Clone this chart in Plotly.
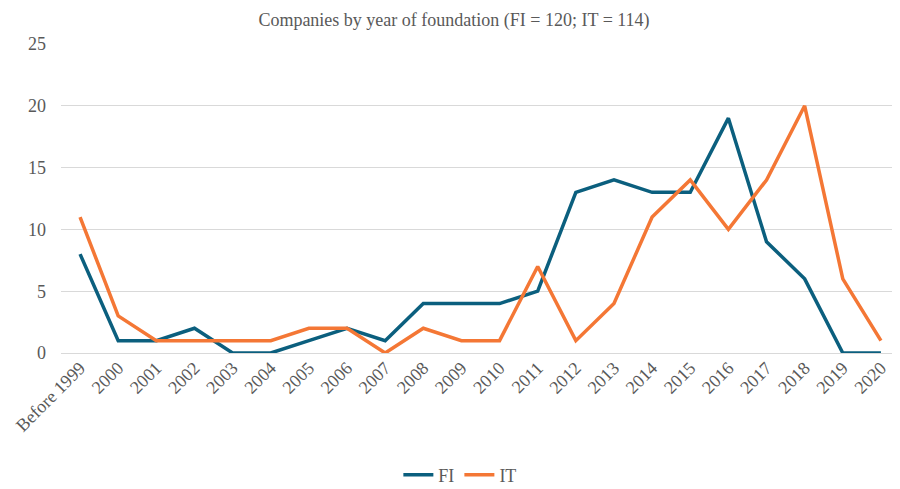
import plotly.graph_objects as go

categories = ["Before 1999", "2000", "2001", "2002", "2003", "2004", "2005", "2006", "2007", "2008",
              "2009", "2010", "2011", "2012", "2013", "2014", "2015", "2016", "2017", "2018", "2019", "2020"]
fi_values = [8, 1, 1, 2, 0, 0, 1, 2, 1, 4, 4, 4, 5, 13, 14, 13, 13, 19, 9, 6, 0, 0]
it_values = [11, 3, 1, 1, 1, 1, 2, 2, 0, 2, 1, 1, 7, 1, 4, 11, 14, 10, 14, 20, 6, 1]
y_ticks = [0, 5, 10, 15, 20, 25]

font_family = "Liberation Serif"
fig = go.Figure()
fig.add_trace(go.Scatter(x=categories, y=fi_values, name="FI", mode="lines",
                         line=dict(color="#0B5F7E", width=3.5)))
fig.add_trace(go.Scatter(x=categories, y=it_values, name="IT", mode="lines",
                         line=dict(color="#F47735", width=3.5)))

fig.update_layout(
    width=892, height=481,
    margin=dict(l=53, r=0, t=36, b=136, autoexpand=False),
    paper_bgcolor="white", plot_bgcolor="white",
    font=dict(family=font_family, color="#595959", size=18),
    title=dict(text="Companies by year of foundation (FI = 120; IT = 114)",
               x=0.5, xanchor="center", y=0.975, yanchor="middle",
               font=dict(size=18, color="#595959", family=font_family)),
    xaxis=dict(type="category", tickangle=-45, showgrid=False, showline=False,
               ticks="", tickfont=dict(size=18), range=[-0.5, 21.5], automargin=False),
    yaxis=dict(range=[0, 25], tickvals=y_ticks, showgrid=True, gridcolor="#D9D9D9",
               gridwidth=1, zeroline=True, zerolinecolor="#D9D9D9", zerolinewidth=1,
               showline=False, ticks="", tickfont=dict(size=18), ticklabelstandoff=14,
               automargin=False),
    legend=dict(orientation="h", x=0.476, xanchor="center", y=-0.395, yanchor="middle",
                font=dict(size=18)),
    showlegend=True,
)
fig.write_html("out.html")
